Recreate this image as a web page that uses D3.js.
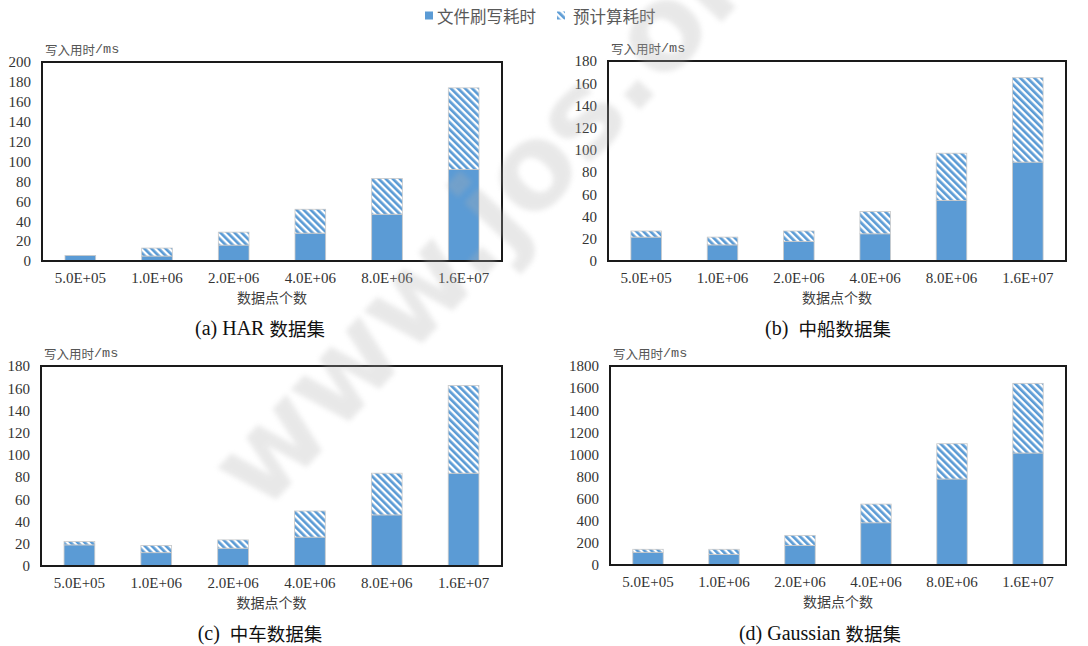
<!DOCTYPE html>
<html>
<head>
<meta charset="utf-8">
<script src="https://cdn.jsdelivr.net/npm/d3@7"></script>
<style>
  html, body { margin: 0; padding: 0; background: #fff; }
  svg { display: block; }
  .tick text { font-family: 'Liberation Serif', 'Times New Roman', serif; }
</style>
</head>
<body>
<svg id="chart" width="1088" height="646"></svg>
<script>
// Data points on the x axis
const categories = ["5.0E+05", "1.0E+06", "2.0E+06", "4.0E+06", "8.0E+06", "1.6E+07"];

// Series names
const seriesNames = ["文件刷写耗时", "预计算耗时"];

// (a) HAR
const harFlush = [5.5, 5, 16, 28, 47, 92];
const harPre   = [0, 8, 13, 24, 36, 82];
// (b) 中船
const shipFlush = [21.5, 14.5, 17.5, 24.5, 54.5, 89];
const shipPre   = [5.5, 7, 9.5, 20, 42.5, 76];
// (c) 中车
const carFlush = [19, 12, 16, 26, 46, 83.5];
const carPre   = [3, 6.5, 7.5, 23.5, 37.5, 79];
// (d) Gaussian
const gaussFlush = [115, 96, 177, 382, 778, 1013];
const gaussPre   = [27, 46, 91, 169, 319, 630];

// Y-axis tick values
const ticks200 = [0, 20, 40, 60, 80, 100, 120, 140, 160, 180, 200];
const ticks180 = [0, 20, 40, 60, 80, 100, 120, 140, 160, 180];
const ticks1800 = [0, 200, 400, 600, 800, 1000, 1200, 1400, 1600, 1800];

const captions = ["(a) HAR 数据集", "(b)  中船数据集", "(c)  中车数据集", "(d) Gaussian 数据集"];

const BLUE = "#5b9bd5";
const SERIF = "'Liberation Serif', 'Times New Roman', serif";
const CJK = "'Noto Sans CJK SC', 'Noto Sans', sans-serif";

const panels = [
  { flush: harFlush,   pre: harPre,   ticks: ticks200,  max: 200,  box: { l: 42,  r: 502,  t: 62,  b: 261 }, cap: { x: 260, y: 328 } },
  { flush: shipFlush,  pre: shipPre,  ticks: ticks180,  max: 180,  box: { l: 608, r: 1066, t: 61,  b: 261 }, cap: { x: 828, y: 328 } },
  { flush: carFlush,   pre: carPre,   ticks: ticks180,  max: 180,  box: { l: 41,  r: 502,  t: 366, b: 566 }, cap: { x: 260, y: 633 } },
  { flush: gaussFlush, pre: gaussPre, ticks: ticks1800, max: 1800, box: { l: 610, r: 1066, t: 366, b: 565 }, cap: { x: 820, y: 633 } }
];

const svg = d3.select("#chart");
const defs = svg.append("defs");

// Diagonal stripe fill for the precompute segment
const pat = defs.append("pattern")
  .attr("id", "hatch")
  .attr("patternUnits", "userSpaceOnUse")
  .attr("width", 5).attr("height", 5)
  .attr("patternTransform", "rotate(-45)");
pat.append("rect").attr("width", 5).attr("height", 5).attr("fill", "#fff");
pat.append("rect").attr("width", 2.7).attr("height", 5).attr("fill", BLUE);

defs.append("filter").attr("id", "soft")
  .append("feGaussianBlur").attr("stdDeviation", 2.5);

// Legend
const legend = svg.append("g").attr("font-family", CJK).attr("font-size", 16.5).attr("fill", "#595959");
legend.append("rect").attr("x", 425).attr("y", 11.5).attr("width", 8).attr("height", 8).attr("fill", BLUE);
legend.append("text").attr("x", 437).attr("y", 16).attr("dominant-baseline", "central").text(seriesNames[0]);
legend.append("rect").attr("x", 557).attr("y", 11.5).attr("width", 8).attr("height", 8).attr("fill", "url(#hatch)");
legend.append("text").attr("x", 573).attr("y", 16).attr("dominant-baseline", "central").text(seriesNames[1]);

panels.forEach((p, i) => {
  const g = svg.append("g");
  const { l, r, t, b } = p.box;

  const x = d3.scaleBand().domain(categories).range([l, r]).padding(0);
  const y = d3.scaleLinear().domain([0, p.max]).range([b, t]);
  const bw = x.bandwidth() * 0.4;

  // Y axis labels
  const yAxis = d3.axisLeft(y).tickValues(p.ticks).tickFormat(d3.format("d")).tickSize(0).tickPadding(11);
  const ya = g.append("g").attr("transform", `translate(${l},0)`).call(yAxis)
    .attr("font-family", SERIF).attr("font-size", 15);
  ya.select(".domain").remove();
  ya.selectAll("text").attr("fill", "#333");

  // X axis labels
  const xAxis = d3.axisBottom(x).tickSize(0).tickPadding(11);
  const xa = g.append("g").attr("transform", `translate(0,${b})`).call(xAxis)
    .attr("font-family", SERIF).attr("font-size", 15);
  xa.select(".domain").remove();
  xa.selectAll("text").attr("fill", "#333");

  // Stacked bars
  const rows = categories.map((c, k) => ({ c, f: p.flush[k], pr: p.pre[k] }));
  g.selectAll("rect.flush").data(rows).join("rect")
    .attr("class", "flush")
    .attr("x", d => x(d.c) + (x.bandwidth() - bw) / 2)
    .attr("width", bw)
    .attr("y", d => y(d.f))
    .attr("height", d => y(0) - y(d.f))
    .attr("fill", BLUE)
    .attr("stroke", "#c9c9c9").attr("stroke-width", 0.8);
  g.selectAll("rect.pre").data(rows.filter(d => d.pr > 0)).join("rect")
    .attr("class", "pre")
    .attr("x", d => x(d.c) + (x.bandwidth() - bw) / 2)
    .attr("width", bw)
    .attr("y", d => y(d.f + d.pr))
    .attr("height", d => y(d.f) - y(d.f + d.pr))
    .attr("fill", "url(#hatch)")
    .attr("stroke", "#c9c9c9").attr("stroke-width", 0.8);

  // Plot frame
  g.append("rect").attr("x", l).attr("y", t).attr("width", r - l).attr("height", b - t)
    .attr("fill", "none").attr("stroke", "#1a1a1a").attr("stroke-width", 2);

  // Axis titles
  const yt = g.append("text").attr("x", l + 3).attr("y", t - 13)
    .attr("dominant-baseline", "central").attr("fill", "#555");
  yt.append("tspan").attr("font-family", CJK).attr("font-size", 12.5).text("写入用时");
  yt.append("tspan").attr("font-family", "'Liberation Mono', monospace").attr("font-size", 13.5).text("/ms");

  g.append("text").attr("x", (l + r) / 2).attr("y", b + 36)
    .attr("text-anchor", "middle").attr("dominant-baseline", "central")
    .attr("font-family", CJK).attr("font-size", 14).attr("fill", "#404040")
    .text("数据点个数");

  // Caption
  const cap = captions[i];
  const m = cap.match(/^(\([a-d]\)\s*[A-Za-z]*\s*)(.*)$/);
  const ct = g.append("text").attr("x", p.cap.x).attr("y", p.cap.y)
    .attr("text-anchor", "middle").attr("dominant-baseline", "central").attr("fill", "#111")
    .attr("xml:space", "preserve").style("white-space", "pre");
  ct.append("tspan").attr("font-family", SERIF).attr("font-size", 20).text(m[1]);
  ct.append("tspan").attr("font-family", CJK).attr("font-size", 18.5).text(m[2]);
});

// Site watermark
svg.append("text")
  .attr("transform", "translate(262,515) rotate(-47)")
  .attr("font-family", "'DejaVu Sans', sans-serif")
  .attr("font-weight", "bold")
  .attr("font-size", 118)
  .attr("letter-spacing", -2)
  .attr("fill", "#b0b0b0")
  .attr("opacity", 0.28)
  .attr("filter", "url(#soft)")
  .text("www.jos.org.cn");
</script>
</body>
</html>
